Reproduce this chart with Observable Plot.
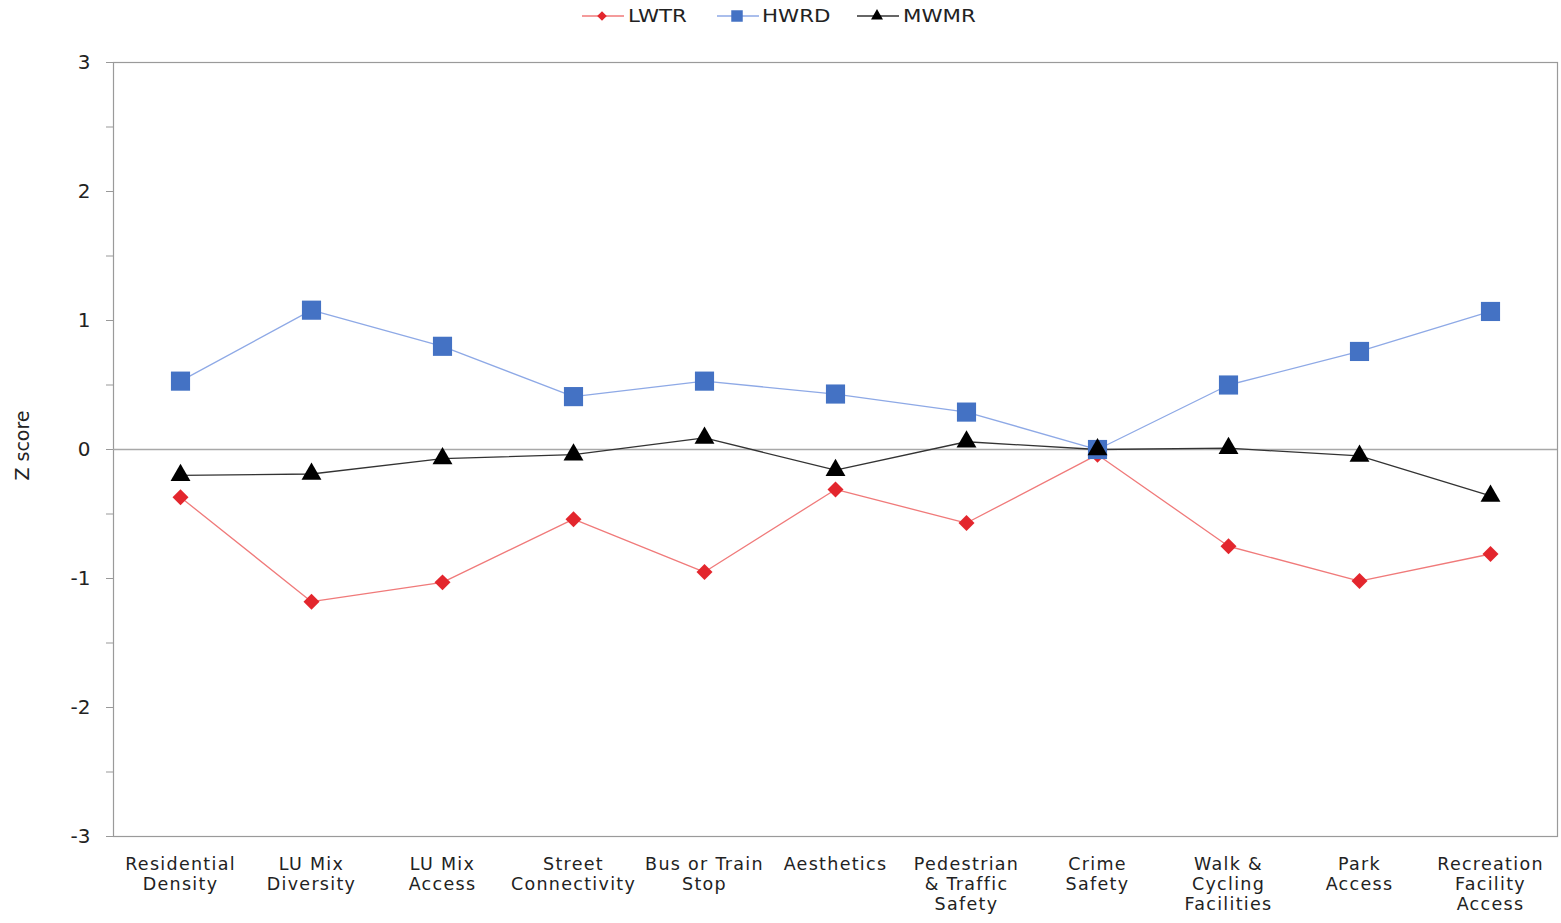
<!DOCTYPE html>
<html>
<head>
<meta charset="utf-8">
<script src="https://cdn.jsdelivr.net/npm/d3@7"></script>
<script src="https://cdn.jsdelivr.net/npm/@observablehq/plot@0.6"></script>
<style>
  body { margin: 0; background: #fff; font-family: "DejaVu Sans", Arial, sans-serif; }
  #legend { height: 35px; position: relative; font-size: 17.5px; color: #222; }
  .item { position: absolute; top: 5px; height: 22px; }
  .item svg { position: absolute; left: 0; top: 1px; }
  .item span { position: absolute; top: 0; white-space: nowrap; line-height: 22px; display: inline-block; transform: scaleX(1.22); transform-origin: 0 50%; }
  svg g[aria-label="x-axis tick label"] text { letter-spacing: 1.3px; }
</style>
</head>
<body>
<div id="legend"></div>
<div id="chart"></div>
<script>
const categories = ["Residential\nDensity", "LU Mix\nDiversity", "LU Mix\nAccess", "Street\nConnectivity", "Bus or Train\nStop", "Aesthetics", "Pedestrian\n& Traffic\nSafety", "Crime\nSafety", "Walk &\nCycling\nFacilities", "Park\nAccess", "Recreation\nFacility\nAccess"];
const seriesNames = ["LWTR", "HWRD", "MWMR"];
const lwtr = [-0.37, -1.18, -1.03, -0.54, -0.95, -0.31, -0.57, -0.04, -0.75, -1.02, -0.81];
const hwrd = [0.53, 1.08, 0.80, 0.41, 0.53, 0.43, 0.29, 0.00, 0.50, 0.76, 1.07];
const mwmr = [-0.20, -0.19, -0.07, -0.04, 0.09, -0.16, 0.06, 0.00, 0.01, -0.05, -0.36];
const yTicks = [-3, -2, -1, 0, 1, 2, 3];
const yMinorTicks = [-2.5, -1.5, -0.5, 0.5, 1.5, 2.5];

const styles = {
  LWTR: {line: "#f07a7a", fill: "#e3262d", symbol: "diamond2", r: 7.2},
  HWRD: {line: "#8ea9e6", fill: "#4472c4", symbol: "square", r: 10.8},
  MWMR: {line: "#333333", fill: "#000000", symbol: "triangle", r: 7.4}
};

const values = {LWTR: lwtr, HWRD: hwrd, MWMR: mwmr};
const rows = seriesNames.flatMap(s => categories.map((c, i) => ({series: s, cat: c, v: values[s][i]})));

const font = "DejaVu Sans, Arial, sans-serif";
const marks = [
  Plot.frame({stroke: "#9a9a9a", strokeWidth: 1.2}),
  Plot.ruleY([0], {stroke: "#a8a8a8", strokeWidth: 1.5}),
  Plot.axisY({ticks: yTicks, tickSize: 7, tickPadding: 16, fontSize: 20, stroke: "#999", label: null, tickFormat: d => String(d)}),
  Plot.axisY(yMinorTicks, {tickSize: 7, tickFormat: () => "", stroke: "#999", label: null}),
  Plot.axisX({tickSize: 0, tickPadding: 19, fontSize: 17.5, label: null, lineHeight: 1.15}),
  Plot.text(["Z score"], {frameAnchor: "left", textAnchor: "middle", dx: -91, dy: -4, rotate: -90, fontSize: 19, fill: "#222"})
];
for (const s of seriesNames) {
  const st = styles[s];
  const data = rows.filter(d => d.series === s);
  marks.push(Plot.line(data, {x: "cat", y: "v", stroke: st.line, strokeWidth: 1.3}));
}
for (const s of seriesNames) {
  const st = styles[s];
  const data = rows.filter(d => d.series === s);
  marks.push(Plot.dot(data, {x: "cat", y: "v", symbol: () => st.symbol, r: st.r, fill: st.fill, stroke: "none"}));
}

const chart = Plot.plot({
  width: 1561,
  height: 888,
  marginTop: 27,
  marginBottom: 87,
  marginLeft: 113,
  marginRight: 4,
  style: {fontFamily: font, color: "#222", background: "#fff"},
  x: {type: "point", domain: categories, padding: 0.5, axis: null},
  y: {domain: [-3, 3], axis: null},
  symbol: {type: "identity"},
  marks
});
document.getElementById("chart").appendChild(chart);

// Legend
const legend = document.getElementById("legend");
const positions = {LWTR: 582, HWRD: 717, MWMR: 857};
for (const s of seriesNames) {
  const st = styles[s];
  const div = document.createElement("div");
  div.className = "item";
  div.style.left = positions[s] + "px";
  const type = st.symbol === "diamond2" ? d3.symbolDiamond2 : st.symbol === "square" ? d3.symbolSquare : d3.symbolTriangle;
  const sym = d3.symbol().type(type).size(Math.PI * (st.r * 0.6) ** 2)();
  div.innerHTML = `<svg width="42" height="20"><line x1="0" x2="42" y1="10" y2="10" stroke="${st.line}" stroke-width="1.3"/><path d="${sym}" transform="translate(20,10)" fill="${st.fill}"/></svg><span style="left:${s === "HWRD" ? 45 : 46}px">${s}</span>`;
  legend.appendChild(div);
}
</script>
</body>
</html>
